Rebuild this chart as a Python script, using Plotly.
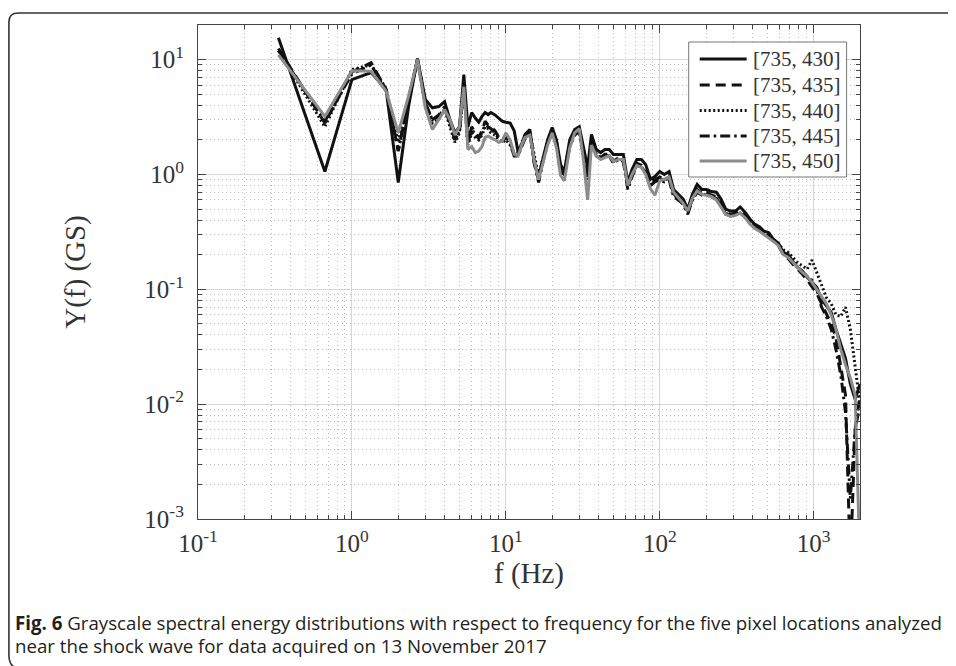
import math
import plotly.graph_objects as go

# ---------------- data ----------------
freq_hz = [0.333, 0.667, 1.0, 1.333, 1.667, 2.0, 2.333, 2.667, 3.0, 3.333, 3.667, 4.0, 4.333, 4.667, 5.0,
           5.333, 5.667, 6.0, 6.333, 6.667, 7.0, 7.333, 7.667, 8.0, 8.5, 9.0, 9.5, 10.0, 10.67, 11.33, 12.0, 12.67, 13.33,
           14.33, 15.33, 16.33, 17.33, 18.67, 20.0, 21.33, 22.67, 24.0, 26.0, 28.0, 30.0, 32.0, 34.0, 36.0, 38.67,
           41.33, 44.0, 47.0, 50.0, 54.0, 58.0, 62.0, 66.0, 71.0, 76.0, 81.0, 87.0, 93.0,
           100, 107, 115, 123, 132, 142, 152, 163, 175, 188, 202, 217, 233, 250, 268, 288, 310, 333, 358, 385, 413, 444, 477,
           512, 550, 590, 635, 682, 733, 787, 845, 908, 975, 1048, 1125, 1209, 1300, 1395, 1500, 1610, 1730, 1860, 2000]

y_735_430 = [15.5, 1.06, 6.7, 7.7, 5.5, 0.85, 3.9, 10.2, 4.5, 3.8, 3.9, 4.3, 3.0, 2.3, 2.6,
             7.4, 2.6, 3.46, 3.1, 2.85, 3.2, 3.46, 3.32, 3.46, 3.3, 3.1, 2.9, 2.85, 2.8, 2.4, 1.58, 1.82, 2.23,
             2.46, 1.22, 0.96, 1.35, 2.0, 2.56, 2.0, 1.22, 1.06, 2.0, 2.46, 2.61, 1.65, 1.15, 2.23, 1.65,
             1.55, 1.65, 1.65, 1.49, 1.49, 1.49, 0.85, 1.1, 1.35, 1.35, 1.22, 0.91, 0.96,
             1.06, 1.0, 1.06, 0.74, 0.67, 0.61, 0.50, 0.67, 0.82, 0.74, 0.74, 0.71, 0.70, 0.61, 0.50, 0.48, 0.48, 0.52, 0.47, 0.41, 0.37, 0.35, 0.32,
             0.31, 0.27, 0.25, 0.21, 0.20, 0.175, 0.155, 0.144, 0.127, 0.115, 0.104, 0.082, 0.071, 0.063, 0.045, 0.033, 0.025, 0.015, 0.011, 0.015]

y_735_435 = [12.5, 2.8, 7.8, 9.4, 5.5, 1.6, 4.5, 10.0, 4.2, 3.0, 3.3, 3.9, 2.9, 2.0, 2.4,
             6.0, 1.9, 2.6, 2.3, 2.1, 2.4, 2.9, 2.7, 2.6, 2.4, 2.1, 2.0, 2.2, 1.9, 1.5, 1.5, 1.8, 2.1,
             2.3, 1.3, 0.88, 1.3, 1.9, 2.4, 1.9, 1.1, 1.0, 1.8, 2.3, 2.4, 1.5, 0.95, 2.0, 1.5,
             1.4, 1.5, 1.5, 1.3, 1.4, 1.35, 0.78, 1.0, 1.25, 1.2, 1.1, 0.85, 0.9,
             0.95, 0.9, 0.95, 0.68, 0.62, 0.58, 0.47, 0.62, 0.74, 0.68, 0.70, 0.66, 0.64, 0.56, 0.47, 0.45, 0.46, 0.48, 0.44, 0.39, 0.35, 0.33, 0.31,
             0.29, 0.26, 0.24, 0.20, 0.185, 0.165, 0.15, 0.135, 0.12, 0.105, 0.092, 0.075, 0.062, 0.05, 0.038, 0.022, 0.012, 0.0004, 0.006, 0.01]

y_735_440 = [12.0, 2.6, 8.2, 9.0, 5.6, 1.9, 4.6, 10.0, 4.0, 2.8, 3.0, 3.7, 2.6, 1.9, 2.3,
             5.6, 1.8, 2.3, 2.1, 2.0, 2.2, 2.6, 2.5, 2.3, 2.2, 2.0, 1.9, 2.0, 1.8, 1.5, 1.55, 1.85, 2.2,
             2.3, 1.4, 0.95, 1.35, 1.95, 2.35, 1.85, 1.15, 1.05, 1.9, 2.3, 2.3, 1.45, 1.0, 2.0, 1.5,
             1.4, 1.45, 1.45, 1.3, 1.35, 1.3, 0.8, 1.0, 1.2, 1.15, 1.05, 0.82, 0.88,
             0.92, 0.9, 0.92, 0.68, 0.6, 0.56, 0.48, 0.6, 0.72, 0.68, 0.66, 0.64, 0.62, 0.55, 0.46, 0.44, 0.45, 0.46, 0.43, 0.38, 0.35, 0.33, 0.31,
             0.30, 0.27, 0.25, 0.22, 0.21, 0.19, 0.17, 0.16, 0.15, 0.18, 0.14, 0.11, 0.085, 0.075, 0.06, 0.058, 0.07, 0.045, 0.022, 0.01]

y_735_445 = [12.0, 2.9, 7.5, 9.0, 5.4, 1.6, 4.3, 10.0, 4.1, 3.0, 3.2, 3.8, 2.8, 2.0, 2.4,
             5.8, 1.85, 2.5, 2.2, 2.05, 2.3, 2.7, 2.6, 2.5, 2.3, 2.05, 1.95, 2.1, 1.85, 1.45, 1.45, 1.75, 2.05,
             2.25, 1.25, 0.85, 1.25, 1.85, 2.3, 1.8, 1.05, 0.95, 1.75, 2.2, 2.35, 1.45, 0.9, 1.95, 1.45,
             1.35, 1.45, 1.45, 1.25, 1.35, 1.3, 0.74, 0.95, 1.2, 1.15, 1.05, 0.8, 0.86,
             0.9, 0.86, 0.9, 0.64, 0.6, 0.55, 0.45, 0.6, 0.7, 0.66, 0.67, 0.63, 0.62, 0.54, 0.45, 0.44, 0.45, 0.47, 0.43, 0.38, 0.35, 0.33, 0.31,
             0.29, 0.27, 0.25, 0.21, 0.19, 0.17, 0.155, 0.14, 0.13, 0.12, 0.1, 0.07, 0.058, 0.045, 0.03, 0.018, 0.0085, 0.0015, 0.006, 0.012]

y_735_450 = [11.0, 3.2, 8.0, 7.9, 5.3, 2.3, 4.8, 10.0, 3.8, 2.46, 3.0, 3.67, 3.0, 2.2, 2.6,
             5.8, 1.65, 1.75, 1.55, 1.6, 1.75, 2.1, 2.15, 2.1, 2.0, 1.9, 1.95, 2.3, 2.0, 1.5, 1.45, 1.8, 2.1,
             2.2, 1.3, 0.9, 1.2, 1.8, 2.3, 1.7, 0.98, 0.88, 1.7, 2.3, 2.5, 1.3, 0.6, 1.8, 1.45,
             1.35, 1.4, 1.45, 1.3, 1.35, 1.35, 0.8, 1.0, 1.2, 1.15, 1.0, 0.75, 0.66,
             0.88, 0.92, 0.95, 0.7, 0.62, 0.56, 0.48, 0.62, 0.72, 0.67, 0.66, 0.64, 0.6, 0.52, 0.45, 0.43, 0.44, 0.46, 0.42, 0.37, 0.34, 0.32, 0.3,
             0.28, 0.26, 0.24, 0.2, 0.19, 0.17, 0.155, 0.14, 0.13, 0.115, 0.1, 0.085, 0.075, 0.06, 0.045, 0.03, 0.022, 0.017, 0.012, 0.0004]

series_names = ["[735, 430]", "[735, 435]", "[735, 440]", "[735, 445]", "[735, 450]"]
series_values = [y_735_430, y_735_435, y_735_440, y_735_445, y_735_450]

x_tick_vals = [0.1, 1, 10, 100, 1000]
x_tick_text = ["10<sup>-1</sup>", "10<sup>0</sup>", "10<sup>1</sup>", "10<sup>2</sup>", "10<sup>3</sup>"]
y_tick_vals = [0.001, 0.01, 0.1, 1, 10]
y_tick_text = ["10<sup>-3</sup>", "10<sup>-2</sup>", "10<sup>-1</sup>", "10<sup>0</sup>", "10<sup>1</sup>"]

caption_bold = "Fig. 6"
caption_line1 = " Grayscale spectral energy distributions with respect to frequency for the five pixel locations analyzed"
caption_line2 = "near the shock wave for data acquired on 13 November 2017"

# ---------------- styles ----------------
colors = ["#111111", "#111111", "#111111", "#111111", "#8c8c8c"]
dashes = ["solid", "10px,6px", "2px,2.5px", "10px,4px,2.5px,4px", "solid"]
LW = 3

OFF = 8                      # the page body has an 8px default margin
W, H = 956 - OFF, 666 - OFF
PL, PR, PT, PB = 198 - OFF, 860.4 - OFF, 25 - OFF, 519 - OFF


def px(x):
    return (x - OFF - PL) / (PR - PL)


def py(y):
    return (PB - (y - OFF)) / (PB - PT)


fig = go.Figure()
for name, vals, c, d in zip(series_names, series_values, colors, dashes):
    fig.add_trace(go.Scatter(x=freq_hz, y=vals, mode="lines", name=name,
                             line=dict(color=c, width=LW, dash=d), showlegend=False))

minor_x = [m * 10 ** e for e in range(-1, 4) for m in range(2, 10)]
minor_y = [m * 10 ** e for e in range(-3, 2) for m in range(2, 10)]

tickfont = dict(family="Liberation Serif, Times New Roman, serif", size=25, color="#333333")
titlefont = dict(family="Liberation Serif, Times New Roman, serif", size=29, color="#333333")

common = dict(type="log", ticks="inside", ticklen=8, tickcolor="#444", tickwidth=1,
              showline=True, linecolor="#444", linewidth=1.2, mirror="allticks",
              showgrid=True, gridcolor="#d6d6d6", gridwidth=1, zeroline=False,
              tickfont=tickfont, tickmode="array")

minor_common = dict(tickmode="array", ticks="inside", ticklen=4, tickcolor="#444",
                    showgrid=True, gridcolor="#bdbdbd", griddash="1px,3px", gridwidth=1)

fig.update_xaxes(range=[-1, math.log10(2000)], tickvals=x_tick_vals, ticktext=x_tick_text,
                 minor=dict(tickvals=minor_x, **minor_common),
                 title=dict(text="f (Hz)", font=titlefont, standoff=1), ticklabelstandoff=2, **common)
fig.update_yaxes(range=[-3, math.log10(20)], tickvals=y_tick_vals, ticktext=y_tick_text,
                 minor=dict(tickvals=minor_y, **minor_common),
                 title=dict(text="Y(f) (GS)", font=titlefont, standoff=50), ticklabelstandoff=8, **common)

shapes = []
# figure frame (rounded corners on the left)
frame = (f"M {px(962)},{py(13)} L {px(18)},{py(13)} Q {px(8.8)},{py(13)} {px(8.8)},{py(22)} "
         f"L {px(8.8)},{py(655)} Q {px(8.8)},{py(664)} {px(14)},{py(667)}")
shapes.append(dict(type="path", xref="paper", yref="paper", path=frame,
                   line=dict(color="#333333", width=1.6)))
# legend box
shapes.append(dict(type="rect", xref="paper", yref="paper", x0=px(689), x1=px(847), y0=py(177), y1=py(42),
                   line=dict(color="#777777", width=1), fillcolor="white", layer="above"))
rows = [59, 85, 110.5, 136, 161]
annotations = []
for r, name, c, d in zip(rows, series_names, colors, dashes):
    shapes.append(dict(type="line", xref="paper", yref="paper", x0=px(700), x1=px(747), y0=py(r), y1=py(r),
                       line=dict(color=c, width=LW, dash=d), layer="above"))
    annotations.append(dict(xref="paper", yref="paper", x=px(751), y=py(r), xanchor="left", yanchor="middle",
                            text=name, showarrow=False,
                            font=dict(family="Liberation Serif, Times New Roman, serif", size=21, color="#333333")))

capfont = dict(family="Open Sans, Noto Sans, sans-serif", size=18.7, color="#231f20")
annotations.append(dict(xref="paper", yref="paper", x=px(13), y=py(622), xanchor="left", yanchor="middle",
                        text=f"<b>{caption_bold}</b>{caption_line1}", showarrow=False, font=capfont))
annotations.append(dict(xref="paper", yref="paper", x=px(13), y=py(645), xanchor="left", yanchor="middle",
                        text=caption_line2, showarrow=False, font=capfont))

fig.update_layout(width=W, height=H, margin=dict(l=PL, r=W - PR, t=PT, b=H - PB, autoexpand=False),
                  paper_bgcolor="white", plot_bgcolor="white", shapes=shapes, annotations=annotations,
                  showlegend=False)

fig.write_html("out.html")
